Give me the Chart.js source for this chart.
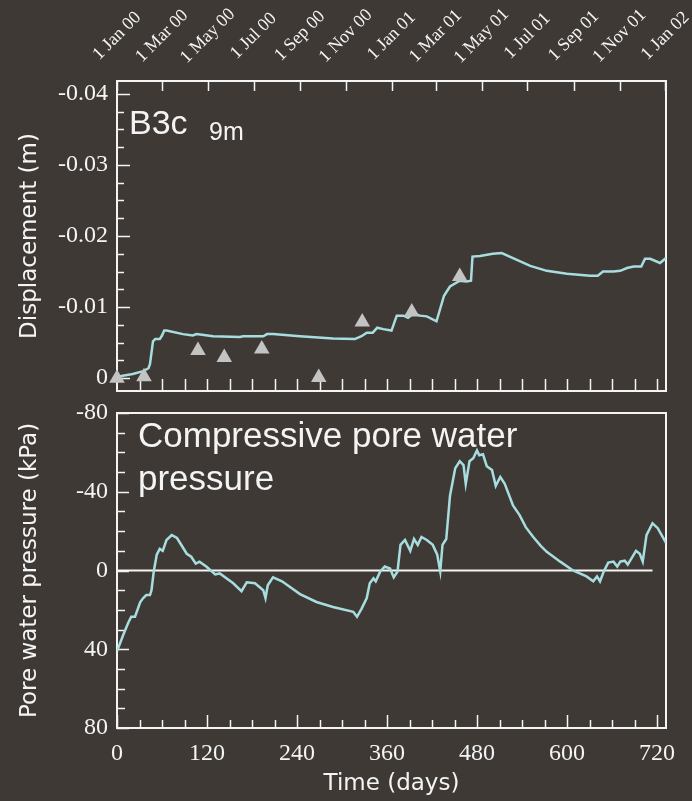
<!DOCTYPE html>
<html>
<head>
<meta charset="utf-8">
<script src="https://cdn.jsdelivr.net/npm/chart.js@4.4.0/dist/chart.umd.min.js"></script>
<style>
html, body { margin: 0; padding: 0; background: #3e3935; }
#wrap { position: relative; width: 692px; height: 801px; overflow: hidden; }
#top { position: absolute; left: 0; top: 0; }
#bot { position: absolute; left: 0; top: 400px; }
</style>
</head>
<body>
<div id="wrap">
  <canvas id="top" width="692" height="400"></canvas>
  <canvas id="bot" width="692" height="401"></canvas>
</div>
<script>
// displacement (upper panel), measured line
var dispDays = [0, 21, 35, 42, 44, 48, 51, 57, 60, 63, 66, 88, 101, 106, 128, 164, 168, 195, 200, 208,
  244, 288, 317, 326, 333, 341, 347, 355, 366, 373, 382, 388, 395, 404, 413, 426, 431, 436, 444, 457,
  466, 472, 474, 484, 501, 513, 528, 551, 573, 600, 631, 641, 648, 662, 671, 680, 689, 699, 704, 711, 724, 732];
var dispValues = [-0.0002, -0.0006, -0.001, -0.0014, -0.002, -0.0052, -0.0055, -0.0055, -0.006, -0.0067, -0.0067,
  -0.0062, -0.006, -0.0062, -0.0059, -0.0058, -0.0059, -0.0059, -0.0062, -0.0062,
  -0.0059, -0.0056, -0.0055, -0.0059, -0.0064, -0.0064, -0.0071, -0.0069, -0.0067, -0.0088, -0.0088, -0.0085,
  -0.0091, -0.0088, -0.0087, -0.008, -0.0098, -0.0116, -0.0129, -0.0137,
  -0.0136, -0.0137, -0.0171, -0.0172, -0.0175, -0.0176, -0.0169, -0.0158, -0.0151, -0.0147, -0.0144, -0.0144,
  -0.015, -0.015, -0.0151, -0.0155, -0.0157, -0.0157, -0.0168, -0.0168, -0.0162, -0.0169];

// survey points (triangles)
var surveyDays = [0, 36, 108, 143, 193, 269, 327, 393, 457];
var surveyValues = [0, -0.0002, -0.0039, -0.0029, -0.0041, -0.0001, -0.0079, -0.0093, -0.0143];

// pore water pressure (lower panel)
var poreDays = [0, 8, 15, 19, 24, 31, 35, 39, 44, 46, 49, 53, 57, 61, 66, 73, 80, 93, 99, 105, 110, 119,
  131, 137, 155, 166, 173, 184, 195, 198, 201, 208, 220, 244, 266, 288, 315, 320, 326, 333, 337, 342, 345,
  351, 357, 364, 369, 374, 378, 384, 391, 396, 401, 406, 413, 421, 427, 431, 434, 439, 444, 451, 457, 462,
  465, 470, 475, 480, 483, 488, 493, 500, 505, 511, 517, 528, 537, 545, 555, 565, 573, 591, 608, 626, 635,
  640, 644, 649, 655, 662, 667, 671, 677, 681, 692, 697, 701, 706, 714, 721, 732];
var poreValues = [41, 33, 26.5, 23.5, 23.5, 16, 14, 12.5, 12.5, 10, 0.5, -8, -11, -10, -15.5, -18, -16.5, -8.5, -7, -3.5, -4.5, -2,
  2, 1.5, 6.5, 10.5, 6, 6.5, 10, 14, 7.5, 3.5, 5.5, 12, 16, 18.5, 21, 23.5, 19.5, 14, 6.5, 4, 5.5,
  0.5, -2, -1, 3.5, 0.5, -13, -15.5, -10, -16, -13, -17, -15.5, -13, -8, 0.5, -13, -16, -38, -52, -55.5, -53.5,
  -44, -55.5, -57, -61, -58.5, -59, -53, -51, -43, -47.5, -44, -33, -28, -22, -17, -12.5, -9.5, -4.5, 0, 3, 5.5,
  3, 5.5, 0.5, -4, -4.5, -2, -4.5, -5, -3, -10, -8.5, -4.5, -18, -24, -21.5, -14];

// zero reference line
var zeroDays = [0, 714];
var zeroValues = [0, 0];

// axes
var timeTicks = [0, 120, 240, 360, 480, 600, 720];
var dispTicks = [-0.04, -0.03, -0.02, -0.01, 0];
var dispTickLabels = ['-0.04', '-0.03', '-0.02', '-0.01', '0'];
var poreTicks = [-80, -40, 0, 40, 80];
var poreTickLabels = ['-80', '-40', '0', '40', '80'];
var monthDays = [0, 60, 121, 182, 244, 305, 366, 425, 486, 547, 609, 670, 731];
var monthLabels = ['1 Jan 00', '1 Mar 00', '1 May 00', '1 Jul 00', '1 Sep 00', '1 Nov 00',
  '1 Jan 01', '1 Mar 01', '1 May 01', '1 Jul 01', '1 Sep 01', '1 Nov 01', '1 Jan 02'];

var CYAN = '#a8dde0';
var GREY = '#c3c3c3';
var WHITE = '#f4f4f4';
var SERIF = '"Liberation Serif", "Times New Roman", serif';
var SANS = '"DejaVu Sans", sans-serif';
var ARIAL = '"Liberation Sans", Arial, sans-serif';

function pts(xs, ys) {
  return xs.map(function (x, i) { return { x: x, y: ys[i] }; });
}

function range(from, to, step) {
  var out = [];
  for (var v = from; v <= to + 1e-9; v += step) out.push(v);
  return out;
}

// box + inward ticks drawn with the chart's own scales
function framePlugin(cfg) {
  return {
    id: 'frame',
    beforeDatasetsDraw: function (chart) {
      var ctx = chart.ctx, a = chart.chartArea;
      var xs = chart.scales.x, ys = chart.scales.y;
      ctx.save();
      ctx.strokeStyle = WHITE;
      ctx.lineWidth = 2;
      ctx.strokeRect(a.left, a.top, a.right - a.left, a.bottom - a.top);
      ctx.lineWidth = 1.5;
      ctx.beginPath();
      cfg.left.forEach(function (t) {
        t.values.forEach(function (v) {
          var y = Math.round(ys.getPixelForValue(v)) + 0.5;
          ctx.moveTo(a.left, y); ctx.lineTo(a.left + t.len, y);
        });
      });
      cfg.bottom.forEach(function (t) {
        t.values.forEach(function (v) {
          var x = Math.round(xs.getPixelForValue(v)) + 0.5;
          ctx.moveTo(x, a.bottom); ctx.lineTo(x, a.bottom - t.len);
        });
      });
      (cfg.top || []).forEach(function (t) {
        t.values.forEach(function (v) {
          var x = Math.round(xs.getPixelForValue(v)) + 0.5;
          ctx.moveTo(x, a.top); ctx.lineTo(x, a.top + t.len);
        });
      });
      ctx.stroke();
      ctx.restore();
    },
    afterDraw: function (chart) {
      if (cfg.text) cfg.text(chart);
    }
  };
}

var minorDisp = range(-0.04, 0, 0.0025).filter(function (v, i) { return i % 4 !== 0; });
var minorPore = range(-80, 80, 10).filter(function (v, i) { return i % 4 !== 0; });
var thirty = range(30, 720, 30);

var topChart = new Chart(document.getElementById('top'), {
  type: 'scatter',
  data: {
    datasets: [
      {
        data: pts(surveyDays, surveyValues),
        pointStyle: 'triangle',
        pointRadius: 9,
        backgroundColor: GREY,
        borderWidth: 0,
        clip: false
      },
      {
        type: 'line',
        data: pts(dispDays, dispValues),
        borderColor: CYAN,
        borderWidth: 2.5,
        pointRadius: 0,
        tension: 0,
        fill: false
      }
    ]
  },
  options: {
    responsive: false,
    animation: false,
    layout: { padding: { top: 81, right: 26, bottom: 7, left: 0 } },
    plugins: { legend: { display: false }, tooltip: { enabled: false } },
    scales: {
      x: { type: 'linear', display: false, min: 0, max: 732 },
      y: {
        type: 'linear', reverse: true, min: -0.0418, max: 0.0018,
        afterBuildTicks: function (s) { s.ticks = dispTicks.map(function (v) { return { value: v }; }); },
        afterFit: function (s) { s.width = 117; s.paddingTop = 0; s.paddingBottom = 0; },
        grid: { display: false, drawTicks: false },
        border: { display: false },
        ticks: {
          color: WHITE, padding: 9,
          font: { family: SERIF, size: 24, lineHeight: 1.0 },
          callback: function (v, i) { return dispTickLabels[i]; }
        },
        title: {
          display: true, text: 'Displacement (m)', color: WHITE,
          font: { family: SANS, size: 23 }, padding: { top: 16, bottom: 0 }
        }
      }
    }
  },
  plugins: [framePlugin({
    left: [{ values: dispTicks, len: 13 }, { values: minorDisp, len: 7 }],
    bottom: [{ values: thirty, len: 12 }],
    top: [{ values: monthDays, len: 10 }],
    text: function (chart) {
      var ctx = chart.ctx, xs = chart.scales.x;
      ctx.save();
      ctx.fillStyle = WHITE;
      ctx.font = '18px ' + SERIF;
      ctx.textAlign = 'center';
      ctx.textBaseline = 'middle';
      monthDays.forEach(function (d, i) {
        ctx.save();
        ctx.translate(xs.getPixelForValue(d), 36);
        ctx.rotate(-Math.PI / 4);
        ctx.fillText(monthLabels[i], 0, 0);
        ctx.restore();
      });
      ctx.textAlign = 'left';
      ctx.textBaseline = 'alphabetic';
      ctx.font = '34px ' + ARIAL;
      ctx.fillText('B3c', 129, 134);
      ctx.font = '25px ' + ARIAL;
      ctx.fillText('9m', 209, 140);
      ctx.restore();
    }
  })]
});

var botChart = new Chart(document.getElementById('bot'), {
  type: 'scatter',
  data: {
    datasets: [
      {
        type: 'line',
        data: pts(poreDays, poreValues),
        borderColor: CYAN,
        borderWidth: 2.5,
        pointRadius: 0,
        tension: 0,
        fill: false
      },
      {
        type: 'line',
        data: pts(zeroDays, zeroValues),
        borderColor: WHITE,
        borderWidth: 2,
        pointRadius: 0,
        fill: false
      }
    ]
  },
  options: {
    responsive: false,
    animation: false,
    layout: { padding: { top: 13, right: 26, bottom: 0, left: 0 } },
    plugins: { legend: { display: false }, tooltip: { enabled: false } },
    scales: {
      x: {
        type: 'linear', position: 'bottom', min: 0, max: 732,
        afterBuildTicks: function (s) { s.ticks = timeTicks.map(function (v) { return { value: v }; }); },
        afterFit: function (s) { s.height = 73; s.paddingLeft = 0; s.paddingRight = 0; },
        grid: { display: false, drawTicks: false },
        border: { display: false },
        ticks: {
          color: WHITE, padding: 14, maxRotation: 0, autoSkip: false,
          font: { family: SERIF, size: 24, lineHeight: 1.0 },
          callback: function (v) { return String(v); }
        },
        title: {
          display: true, text: 'Time (days)', color: WHITE,
          font: { family: SANS, size: 23 }, padding: { top: 0, bottom: 3 }
        }
      },
      y: {
        type: 'linear', reverse: true, min: -80, max: 80,
        afterBuildTicks: function (s) { s.ticks = poreTicks.map(function (v) { return { value: v }; }); },
        afterFit: function (s) { s.width = 117; s.paddingTop = 0; s.paddingBottom = 0; },
        grid: { display: false, drawTicks: false },
        border: { display: false },
        ticks: {
          color: WHITE, padding: 9,
          font: { family: SERIF, size: 24, lineHeight: 1.0 },
          callback: function (v, i) { return poreTickLabels[i]; }
        },
        title: {
          display: true, text: 'Pore water pressure (kPa)', color: WHITE,
          font: { family: SANS, size: 23 }, padding: { top: 16, bottom: 0 }
        }
      }
    }
  },
  plugins: [framePlugin({
    left: [{ values: poreTicks, len: 12 }, { values: minorPore, len: 8 }],
    bottom: [{ values: thirty.filter(function (v) { return v % 120 !== 0; }), len: 8 },
             { values: timeTicks, len: 13 }],
    text: function (chart) {
      var ctx = chart.ctx;
      ctx.save();
      ctx.fillStyle = WHITE;
      ctx.font = '35px ' + ARIAL;
      ctx.textAlign = 'left';
      ctx.textBaseline = 'alphabetic';
      ctx.fillText('Compressive pore water', 138, 47);
      ctx.fillText('pressure', 138, 90);
      ctx.restore();
    }
  })]
});
</script>
</body>
</html>
